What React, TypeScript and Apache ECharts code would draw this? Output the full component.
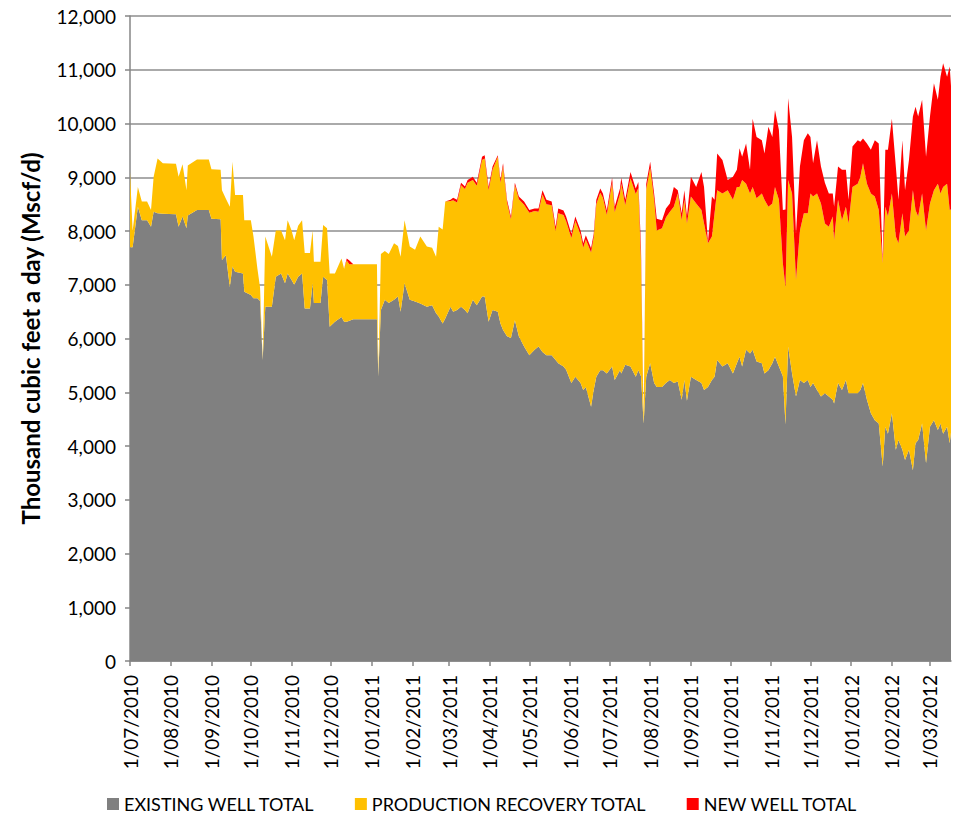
import React, { useEffect, useRef } from 'react';
import * as echarts from 'echarts';

const dates: string[] = [
  '2010-07-01','2010-07-03','2010-07-07','2010-07-10','2010-07-14','2010-07-17','2010-07-19','2010-07-22','2010-07-26',
  '2010-08-05','2010-08-07','2010-08-10','2010-08-13','2010-08-14','2010-08-21','2010-08-30',
  '2010-09-01','2010-09-08','2010-09-09','2010-09-12','2010-09-15','2010-09-17','2010-09-19','2010-09-25','2010-09-26',
  '2010-10-01','2010-10-03','2010-10-06','2010-10-08','2010-10-10','2010-10-12','2010-10-17','2010-10-20','2010-10-24','2010-10-27','2010-10-29',
  '2010-11-01','2010-11-03','2010-11-06','2010-11-09','2010-11-11','2010-11-15','2010-11-17','2010-11-18','2010-11-23','2010-11-25','2010-11-28','2010-11-30',
  '2010-12-04','2010-12-09','2010-12-11','2010-12-13','2010-12-15','2010-12-18',
  '2011-01-05','2011-01-06','2011-01-08','2011-01-11','2011-01-14','2011-01-18','2011-01-21','2011-01-23','2011-01-26','2011-01-30',
  '2011-02-03','2011-02-07','2011-02-12','2011-02-16','2011-02-19','2011-02-21','2011-02-24','2011-02-26',
  '2011-03-02','2011-03-04','2011-03-07','2011-03-10','2011-03-13','2011-03-15','2011-03-19','2011-03-22','2011-03-26','2011-03-28','2011-03-31',
  '2011-04-03','2011-04-07','2011-04-09','2011-04-11','2011-04-14','2011-04-17','2011-04-20','2011-04-23','2011-04-27',
  '2011-05-01','2011-05-05','2011-05-08','2011-05-11','2011-05-14','2011-05-18','2011-05-21','2011-05-23','2011-05-27','2011-05-29',
  '2011-06-02','2011-06-05','2011-06-09','2011-06-11','2011-06-13','2011-06-17','2011-06-19','2011-06-21','2011-06-24','2011-06-26','2011-06-29',
  '2011-07-03','2011-07-05','2011-07-09','2011-07-10','2011-07-13','2011-07-17','2011-07-21','2011-07-23','2011-07-25','2011-07-27','2011-07-29',
  '2011-08-01','2011-08-04','2011-08-06','2011-08-10','2011-08-13','2011-08-16','2011-08-19','2011-08-22','2011-08-25','2011-08-27','2011-08-29',
  '2011-09-01','2011-09-05','2011-09-09','2011-09-11','2011-09-14','2011-09-17','2011-09-19','2011-09-21','2011-09-25','2011-09-29',
  '2011-10-03','2011-10-06','2011-10-08','2011-10-10','2011-10-13','2011-10-16','2011-10-18','2011-10-21','2011-10-25','2011-10-27','2011-10-30',
  '2011-11-02','2011-11-04','2011-11-07','2011-11-10','2011-11-12','2011-11-14','2011-11-17','2011-11-20','2011-11-23','2011-11-26','2011-11-29',
  '2011-12-01','2011-12-03','2011-12-06','2011-12-09','2011-12-12','2011-12-15','2011-12-18','2011-12-19','2011-12-22','2011-12-25','2011-12-28','2011-12-30',
  '2012-01-02','2012-01-06','2012-01-08','2012-01-10','2012-01-13','2012-01-16','2012-01-19','2012-01-22','2012-01-25','2012-01-27','2012-01-29',
  '2012-02-01','2012-02-04','2012-02-06','2012-02-09','2012-02-11','2012-02-14','2012-02-17','2012-02-19','2012-02-21','2012-02-24','2012-02-27',
  '2012-03-01','2012-03-04','2012-03-07','2012-03-09','2012-03-11','2012-03-14','2012-03-16','2012-03-17',
];

const existingWell: number[] = [
  7700,7700,8450,8200,8200,8080,8360,8330,8320,
  8310,8080,8270,8050,8290,8390,8390,
  8230,8220,7460,7550,6960,7340,7240,7210,6870,
  6810,6750,6750,6700,5600,6590,6590,7150,7210,7030,7210,
  7090,7000,7150,7210,6560,6560,7030,6660,6660,7150,7090,6220,
  6310,6400,6310,6310,6330,6360,
  6360,5300,6530,6720,6660,6720,6780,6500,7030,6720,
  6690,6650,6590,6620,6470,6410,6280,6370,
  6590,6500,6530,6590,6530,6470,6720,6620,6780,6780,6310,
  6530,6500,6280,6160,6040,6010,6340,6040,5850,
  5690,5790,5850,5750,5690,5690,5600,5540,5480,5420,
  5170,5290,5170,5040,5100,4730,5040,5290,5410,5410,5350,
  5480,5230,5410,5350,5510,5480,5290,5410,5300,4420,5290,
  5540,5170,5100,5100,5170,5230,5170,5200,4860,5230,4840,
  5290,5230,5170,5040,5100,5230,5290,5600,5480,5540,
  5350,5540,5660,5480,5790,5720,5790,5570,5540,5350,5410,
  5540,5660,5480,5300,4400,5850,5350,4920,5230,5170,5230,
  5100,5170,5040,4920,4980,4920,4860,4790,5170,5040,5230,4980,
  4980,4980,5040,5170,4860,4610,4480,4420,3620,4360,4230,
  4610,3930,4110,3930,3740,3930,3550,4050,4110,4420,3680,
  4360,4480,4300,4420,4230,4360,4050,4250,
];

const productionRecovery: number[] = [
  1400,300,370,350,350,310,650,1020,940,
  940,930,970,710,930,940,940,
  920,920,1300,1050,1490,1950,1430,1460,1330,
  1390,1150,550,250,20,1310,930,860,800,800,990,
  920,830,950,990,1030,1030,980,770,770,960,960,990,
  900,1090,990,1140,1050,1020,
  1020,20,1040,910,910,1050,940,1020,1170,990,
  960,1250,1120,1070,1050,1670,1750,2180,
  1970,2070,2000,2260,2250,2430,2230,2220,2540,2570,2450,
  2610,2880,2620,3040,2490,2210,2510,2550,2640,
  2650,2580,2510,2930,2810,2790,2400,2790,2820,2760,
  2700,2900,2760,2650,2740,2870,2840,3210,3300,3210,2950,
  3420,3120,3280,3530,2970,3500,3400,3390,2160,20,3480,
  3640,3410,2910,2950,3080,3130,3280,3500,3340,3350,3300,
  3350,3280,3220,3100,2670,2670,3040,3160,3220,3220,
  3230,3280,3160,3470,3090,2980,3030,3040,3160,3230,3040,
  2970,3160,3100,2100,2550,3100,3350,2170,2780,3160,3100,
  3600,3470,3660,3590,3160,3160,3410,3040,3410,3160,3220,3160,
  3840,3900,3970,4090,4020,4090,4160,3970,3780,4090,4040,
  4090,3970,3660,4400,4160,4080,5210,4340,4160,4280,4330,
  4150,4280,4580,4280,4590,4520,4340,4150,
];

const newWell: number[] = [
  0,0,0,0,0,0,0,0,0,
  0,0,0,0,0,0,0,
  0,0,0,0,0,0,0,0,0,
  0,0,0,0,0,0,0,0,0,0,0,
  0,0,0,0,0,0,0,0,0,0,0,0,
  0,0,0,40,70,0,
  0,0,0,0,0,0,0,0,0,0,
  0,0,0,0,0,0,0,0,
  20,50,50,50,50,50,60,60,60,60,60,
  60,30,60,60,50,50,50,50,60,
  50,50,60,80,80,70,80,90,80,90,
  80,80,80,80,80,80,70,80,80,80,80,
  90,100,100,110,100,120,100,110,240,20,110,
  110,120,220,150,170,150,370,60,130,180,130,
  370,310,710,680,20,740,250,680,620,190,
  430,320,720,430,750,440,1270,1140,990,860,1490,
  1240,1430,1300,990,1450,1520,1050,860,1190,1360,1490,
  1050,620,990,690,760,620,430,620,620,940,690,440,
  750,810,650,460,750,810,1050,1240,20,1060,1240,
  1390,1300,810,1360,860,1310,1370,1920,1860,1740,1370,
  1620,1990,1560,2170,2300,1990,2670,2300,
];

const xMin = '2010-07-01';
const xMax = '2012-03-17';

const seriesNames = ['EXISTING WELL TOTAL', 'PRODUCTION RECOVERY TOTAL', 'NEW WELL TOTAL'];
const seriesColors = ['#808080', '#FFC000', '#FF0000'];

function toTime(s: string): number {
  const [y, m, d] = s.split('-').map(Number);
  return new Date(y, m - 1, d).getTime();
}

const DAY = 86400000;
const FONT = 'Lato, "Noto Sans", sans-serif';

export default function App() {
  const ref = useRef<HTMLDivElement>(null);
  useEffect(() => {
    document.body.style.margin = '0';
    if (!ref.current) return;
    const chart = echarts.init(ref.current, undefined, { renderer: 'svg' });
    const valueSets = [existingWell, productionRecovery, newWell];
    const fmtDate = (val: number) => {
      const d = new Date(val);
      if (d.getDate() !== 1 || d.getHours() !== 0) return '';
      return `1/${String(d.getMonth() + 1).padStart(2, '0')}/${d.getFullYear()}`;
    };
    chart.setOption({
      animation: false,
      textStyle: { fontFamily: FONT },
      grid: { left: 130, right: 4, top: 16, bottom: 153, containLabel: false },
      legend: {
        left: 107,
        top: 795,
        padding: 0,
        icon: 'rect',
        itemWidth: 12,
        itemHeight: 12,
        itemGap: 40,
        textStyle: { fontFamily: FONT, fontSize: 18, color: '#000' },
        data: seriesNames,
      },
      xAxis: {
        type: 'time',
        min: toTime(xMin),
        max: toTime(xMax),
        splitNumber: 21,
        minInterval: 28 * DAY,
        maxInterval: 31 * DAY,
        axisLine: { show: true, lineStyle: { color: '#868686', width: 1.5 } },
        axisTick: { show: true, length: 5, lineStyle: { color: '#868686', width: 1.5 } },
        splitLine: { show: false },
        axisLabel: {
          rotate: 90,
          margin: 14,
          fontSize: 19,
          fontFamily: FONT,
          color: '#000',
          fontWeight: 'normal',
          hideOverlap: false,
          showMinLabel: true,
          showMaxLabel: false,
          formatter: (v: number) => fmtDate(v),
        },
      },
      yAxis: {
        type: 'value',
        min: 0,
        max: 12000,
        interval: 1000,
        name: 'Thousand cubic feet a day (Mscf/d)',
        nameLocation: 'middle',
        nameGap: 88,
        nameTextStyle: { fontFamily: FONT, fontSize: 24, fontWeight: 'bold', color: '#000' },
        axisLine: { show: true, lineStyle: { color: '#868686', width: 1.5 } },
        axisTick: { show: true, length: 5, lineStyle: { color: '#868686', width: 1.5 } },
        splitLine: { show: true, lineStyle: { color: '#8e8e8e', width: 1.5 } },
        axisLabel: {
          margin: 14,
          fontSize: 19,
          fontFamily: FONT,
          color: '#000',
          formatter: (v: number) => v.toLocaleString('en-US'),
        },
      },
      series: seriesNames.map((name, k) => ({
        name,
        type: 'line',
        stack: 'total',
        symbol: 'none',
        showSymbol: false,
        color: seriesColors[k],
        itemStyle: { color: seriesColors[k] },
        lineStyle: { width: 0, color: seriesColors[k] },
        areaStyle: { color: seriesColors[k], opacity: 1 },
        data: dates.map((d, i) => [toTime(d), valueSets[k][i]]),
      })),
    });
    return () => chart.dispose();
  }, []);
  return <div ref={ref} style={{ width: 955, height: 814 }} />;
}
